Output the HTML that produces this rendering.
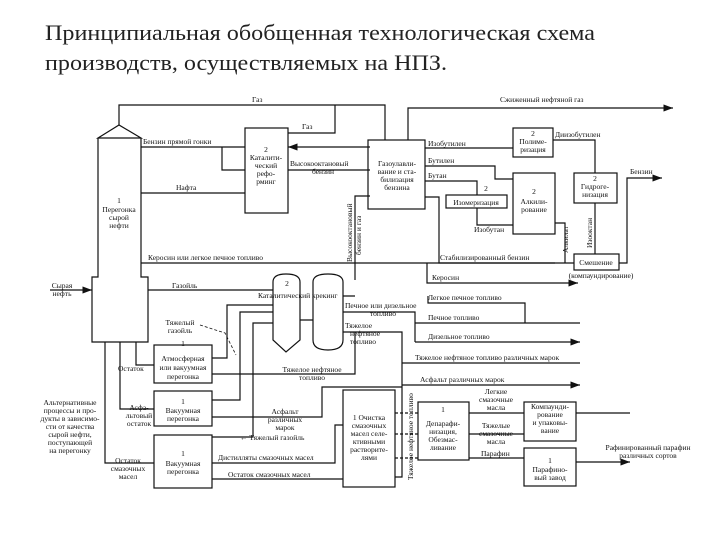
<!DOCTYPE html>
<html><head><meta charset="utf-8"><style>
body{margin:0;background:#fff;width:720px;height:540px;overflow:hidden}
svg{position:absolute;left:0;top:0}
text{font-family:"Liberation Serif","Noto Serif CJK SC",serif;font-size:7.5px;fill:#111}
.t{font-size:22px;fill:#222}
</style></head><body>
<svg width="720" height="540" viewBox="0 0 720 540">
<defs><marker id="a" markerWidth="8" markerHeight="6" refX="8" refY="3" orient="auto"><path d="M0,0L8,3L0,6z" fill="#111"/></marker></defs>
<text class="t" x="45" y="40" textLength="550" lengthAdjust="spacingAndGlyphs">Принципиальная обобщенная технологическая схема</text>
<text class="t" x="45" y="70" textLength="402" lengthAdjust="spacingAndGlyphs">производств, осуществляемых на НПЗ.</text>
<g fill="none" stroke="#111" stroke-width="1.2">
<path d="M98,138 L119,125 L141,138 Z M98,138 V277 H92 V342 H148 V277 H141 V138"/>
<path d="M119,125 V105 H385 V140"/>
<path d="M408,140 V108 H673" marker-end="url(#a)"/>
<path d="M288,133 H335 V105"/>
<rect x="245" y="128" width="43" height="85"/>
<path d="M141,147 H245 M222,147 V170 H245 M141,193 H245"/>
<path d="M370,147 H288" marker-end="url(#a)"/>
<path d="M288,170 H370 M355,280 V196 H370"/>
<path d="M141,263 H555"/>
<rect x="368" y="140" width="57" height="69"/>
<path d="M425,148 H513"/><rect x="513" y="128" width="40" height="29"/>
<path d="M553,140 H595 V173"/><rect x="574" y="173" width="43" height="30"/>
<path d="M425,166 H495 V179 H513"/><rect x="513" y="173" width="42" height="61"/>
<path d="M425,181 H477 V195"/><rect x="446" y="195" width="61" height="13"/>
<path d="M477,208 V225 H513"/>
<path d="M425,197 H439 V263 H574"/>
<path d="M555,223 H565 V263"/>
<path d="M595,203 V254"/><rect x="574" y="254" width="45" height="16"/>
<path d="M619,263 H627 V178 H662" marker-end="url(#a)"/>
<path d="M427,263 V283 H578" marker-end="url(#a)"/>
<path d="M50,290 H92" marker-end="url(#a)"/>
<path d="M148,290 H273"/>
<path d="M273,282 Q273,274 286,274 Q300,274 300,282 V340 L286,352 L273,340 Z"/>
<path d="M313,282 Q313,274 328,274 Q343,274 343,282 V340 Q343,350 328,350 Q313,350 313,340 Z"/>
<path d="M300,320 H313 M343,296 H355"/>
<path d="M343,312 H415 V342 M428,296 V303 H525 V323"/>
<path d="M415,323 H580 M415,342 H580" marker-end="url(#a)"/>
<path d="M343,332 H402 V477 H395"/>
<path d="M402,363 H580 M402,385 H580" marker-end="url(#a)"/>
<rect x="154" y="345" width="58" height="38"/>
<rect x="154" y="391" width="58" height="35"/>
<rect x="154" y="435" width="58" height="53"/>
<path d="M105,342 V463 H154 M120,342 V409 H154 M136,342 V365 H154"/>
<path d="M212,358 H227 V305 H273 M212,400 H240 V312 H273 M212,437 H253 V323 H273"/>
<path d="M212,374 H355 V332"/>
<path d="M212,417 H322 V387 H402"/>
<path d="M212,463 H335 V425 H343 M212,479 H343"/>
<rect x="343" y="390" width="52" height="97"/>
<path d="M395,413 H418 M395,434 H418 M395,458 H418" stroke-dasharray="3,2"/>
<rect x="418" y="402" width="51" height="58"/>
<rect x="524" y="402" width="52" height="39"/>
<rect x="524" y="448" width="52" height="38"/>
<path d="M469,413 H524 M469,434 H524 M469,458 H524"/>
<path d="M576,413 H630 M576,462 H630" marker-end="url(#a)"/>
<path d="M200,325 L225,333 L236,355" stroke-dasharray="3,2" stroke-width="0.8"/>
</g>
<text x="252" y="102">Газ</text><text x="302" y="129">Газ</text>
<text x="143" y="144">Бензин прямой гонки</text><text x="176" y="190">Нафта</text>
<text x="290" y="166">Высокооктановый</text><text x="312" y="174">бензин</text>
<g text-anchor="middle"><text x="266" y="152">2</text><text x="266" y="160">Каталити-</text><text x="266" y="168">ческий</text><text x="266" y="176">рефо-</text><text x="266" y="184">рминг</text>
<text x="119" y="203">1</text><text x="119" y="212">Перегонка</text><text x="119" y="220">сырой</text><text x="119" y="228">нефти</text>
<text x="397" y="166">Газоулавли-</text><text x="397" y="174">вание и ста-</text><text x="397" y="182">билизация</text><text x="397" y="190">бензина</text>
<text x="533" y="136">2</text><text x="533" y="144">Полиме-</text><text x="533" y="152">ризация</text>
<text x="534" y="194">2</text><text x="534" y="204">Алкили-</text><text x="534" y="212">рование</text>
<text x="595" y="181">2</text><text x="595" y="189">Гидроге-</text><text x="595" y="197">низация</text>
<text x="476" y="205">Изомеризация</text><text x="486" y="191">2</text>
<text x="596" y="265">Смешение</text><text x="601" y="278">(компаундирование)</text>
<text x="287" y="286">2</text>
<text x="62" y="288">Сырая</text><text x="62" y="296">нефть</text>
<text x="183" y="346">1</text><text x="183" y="361">Атмосферная</text><text x="183" y="370">или вакуумная</text><text x="183" y="379">перегонка</text>
<text x="183" y="404">1</text><text x="183" y="413">Вакуумная</text><text x="183" y="421">перегонка</text>
<text x="183" y="456">1</text><text x="183" y="466">Вакуумная</text><text x="183" y="474">перегонка</text>
<text x="180" y="325">Тяжелый</text><text x="180" y="333">газойль</text>
<text x="312" y="372">Тяжелое нефтяное</text><text x="312" y="380">топливо</text>
<text x="285" y="414">Асфальт</text><text x="285" y="422">различных</text><text x="285" y="430">марок</text>
<text x="369" y="420">1 Очистка</text><text x="369" y="428">смазочных</text><text x="369" y="436">масел селе-</text><text x="369" y="444">ктивными</text><text x="369" y="452">растворите-</text><text x="369" y="460">лями</text>
<text x="443" y="412">1</text><text x="443" y="426">Депарафи-</text><text x="443" y="434">низация,</text><text x="443" y="442">Обезмас-</text><text x="443" y="450">ливание</text>
<text x="550" y="409">Компаунди-</text><text x="550" y="417">рование</text><text x="550" y="425">и упаковы-</text><text x="550" y="433">вание</text>
<text x="550" y="463">1</text><text x="550" y="472">Парафино-</text><text x="550" y="480">вый завод</text>
<text x="496" y="394">Легкие</text><text x="496" y="402">смазочные</text><text x="496" y="410">масла</text>
<text x="496" y="428">Тяжелые</text><text x="496" y="436">смазочные</text><text x="496" y="444">масла</text>
<text x="648" y="450">Рафинированный парафин</text><text x="648" y="458">различных сортов</text>
<text x="70" y="405">Альтернативные</text><text x="70" y="413">процессы и про-</text><text x="70" y="421">дукты в зависимо-</text><text x="70" y="429">сти от качества</text><text x="70" y="437">сырой нефти,</text><text x="70" y="445">поступающей</text><text x="70" y="453">на перегонку</text>
<text x="139" y="410">Асфа-</text><text x="139" y="418">льтовый</text><text x="139" y="426">остаток</text>
<text x="128" y="463">Остаток</text><text x="128" y="471">смазочных</text><text x="128" y="479">масел</text>
</g>
<text x="118" y="371">Остаток</text>
<text x="500" y="102">Сжиженный нефтяной газ</text>
<text x="428" y="146">Изобутилен</text><text x="428" y="163">Бутилен</text><text x="428" y="178">Бутан</text>
<text x="555" y="137">Диизобутилен</text><text x="474" y="232">Изобутан</text>
<text x="440" y="260">Стабилизированный бензин</text><text x="630" y="174">Бензин</text>
<text x="148" y="260">Керосин или легкое печное топливо</text><text x="432" y="280">Керосин</text>
<text x="172" y="288">Газойль</text><text x="258" y="298">Каталитический крекинг</text>
<text x="345" y="308">Печное или дизельное</text><text x="370" y="316">топливо</text>
<text x="428" y="300">Легкое печное топливо</text><text x="428" y="320">Печное топливо</text><text x="428" y="339">Дизельное топливо</text>
<text x="345" y="328">Тяжелое</text><text x="350" y="336">нефтяное</text><text x="350" y="344">топливо</text>
<text x="415" y="360">Тяжелое нефтяное топливо различных марок</text>
<text x="420" y="382">Асфальт различных марок</text>
<text x="240" y="440">← Тяжелый газойль</text>
<text x="218" y="460">Дистилляты смазочных масел</text><text x="228" y="477">Остаток смазочных масел</text>
<text x="481" y="456">Парафин</text>
<g font-size="7"><text transform="translate(352,262) rotate(-90)">Высокооктановый</text><text transform="translate(361,255) rotate(-90)">бензин и газ</text>
<text transform="translate(568,253) rotate(-90)">Алкилат</text><text transform="translate(592,248) rotate(-90)">Изооктан</text>
<text transform="translate(413,480) rotate(-90)">Тяжелое нефтяное топливо</text></g>
</svg>
</body></html>
